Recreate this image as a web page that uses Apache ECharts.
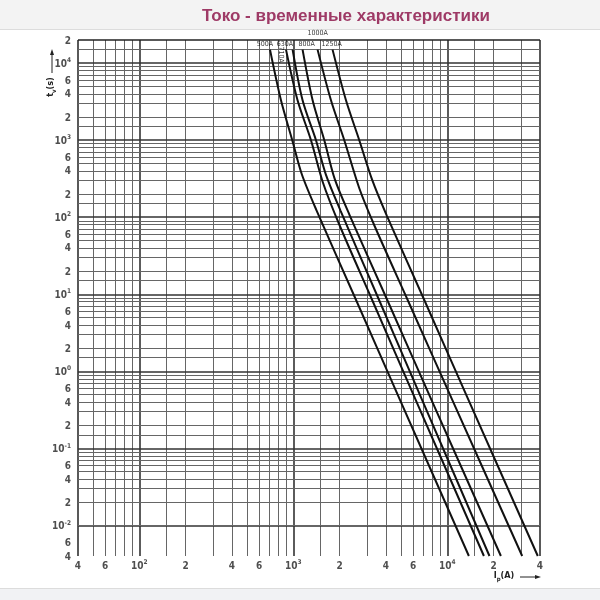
<!DOCTYPE html>
<html><head><meta charset="utf-8">
<script src="https://cdn.jsdelivr.net/npm/echarts@6/dist/echarts.min.js"></script>
<style>html,body{margin:0;padding:0;background:#fff}#c{width:600px;height:600px}</style>
</head><body><div id="c"></div>
<script>
// ---- data ----
const curveNames = ['500A', '630A', '710A', '800A', '1000A', '1250A'];
// times (s) and currents (A)
const time500  = [15000, 3300, 1000, 361, 123, 8.36, 0.42, 0.004];
const current500  = [706, 832, 985, 1136, 1415, 2561, 4945, 13810];
const time630  = [15000, 3300, 1000, 285, 78.7, 8.36, 0.42, 0.004];
const current630  = [897, 1066, 1303, 1555, 1998, 3258, 6254, 17290];
const time710  = [15000, 3300, 1000, 361, 123, 8.36, 0.42, 0.004];
const current710  = [990, 1149, 1404, 1626, 2022, 3613, 6882, 18790];
const time800  = [15000, 3300, 1000, 312, 106, 8.36, 0.42, 0.004];
const current800  = [1149, 1335, 1590, 1860, 2324, 4083, 7918, 22290];
const time1000 = [15000, 3300, 1000, 238, 78.7, 8.36, 0.42, 0.004];
const current1000 = [1438, 1757, 2144, 2683, 3357, 5541, 10810, 30650];
const time1250 = [15000, 3300, 1000, 303, 106, 8.36, 0.42, 0.004];
const current1250 = [1799, 2199, 2683, 3258, 4041, 7102, 13770, 38700];
const curveTimes = [time500, time630, time710, time800, time1000, time1250];
const curveCurrents = [current500, current630, current710, current800, current1000, current1250];

const gridMantissas = [1, 1.5, 2, 3, 4, 5, 6, 7, 8, 9];
const xDecades = [10, 100, 1000, 10000];
const yDecades = [0.001, 0.01, 0.1, 1, 10, 100, 1000, 10000];
const xMin = 40, xMax = 40000, yMin = 0.004, yMax = 20000;

const xTickValues = [40, 60, 100, 200, 400, 600, 1000, 2000, 4000, 6000, 10000, 20000, 40000];
const xTickTexts  = ['4', '6', '10^2', '2', '4', '6', '10^3', '2', '4', '6', '10^4', '2', '4'];
const yTickValues = [20000, 10000, 6000, 4000, 2000, 1000, 600, 400, 200, 100, 60, 40, 20, 10, 6, 4, 2, 1, 0.6, 0.4, 0.2, 0.1, 0.06, 0.04, 0.02, 0.01, 0.006, 0.004];
const yTickTexts  = ['2', '10^4', '6', '4', '2', '10^3', '6', '4', '2', '10^2', '6', '4', '2', '10^1', '6', '4', '2', '10^0', '6', '4', '2', '10^-1', '6', '4', '2', '10^-2', '6', '4'];

const titleText = 'Токо - временные характеристики';

// ---- helpers ----
const FONT = "'Liberation Sans Narrow','DejaVu Sans Condensed','Liberation Sans',sans-serif";
const LFONT = "'DejaVu Sans Condensed','Liberation Sans Narrow',sans-serif";
function gridVals(decades, lo, hi) {
  const out = [];
  decades.forEach(d => gridMantissas.forEach(m => {
    const v = +(m * d).toPrecision(6);
    if (v >= lo - 1e-12 && v <= hi + 1e-12) out.push(v);
  }));
  return out;
}
function isDecade(v) { const l = Math.log10(v); return Math.abs(l - Math.round(l)) < 1e-9; }
function tickRich(t) {
  if (t.indexOf('^') >= 0) { const p = t.split('^'); return '{n|' + p[0] + '}{s|' + p[1] + '}'; }
  return '{n|' + t + '}';
}
const rich = {
  n: { fontSize: 10, fontFamily: FONT, color: '#222', fontWeight: 'bold', lineHeight: 12, verticalAlign: 'bottom' },
  s: { fontSize: 6.5, fontFamily: FONT, color: '#222', fontWeight: 'bold', lineHeight: 12, verticalAlign: 'top' }
};
function lineStyleFor(v, lo, hi) {
  if (v === lo || v === hi) return { color: '#222', width: 1.5, type: 'solid' };
  if (isDecade(v)) return { color: '#333', width: 1.6, type: 'solid' };
  return { color: '#666', width: 1, type: 'solid' };
}

const markData = [];
gridVals(xDecades, xMin, xMax).forEach(v => markData.push({ xAxis: v, lineStyle: lineStyleFor(v, xMin, xMax), label: { show: false } }));
gridVals(yDecades, yMin, yMax).forEach(v => markData.push({ yAxis: v, lineStyle: lineStyleFor(v, yMin, yMax), label: { show: false } }));

const series = [{
  name: 'grid', type: 'line', data: [], silent: true, z: 1,
  markLine: { silent: true, symbol: ['none', 'none'], animation: false, data: markData }
}, {
  name: 'xTicks', type: 'scatter', symbolSize: 0, silent: true, clip: false, z: 3,
  data: xTickValues.map((v, i) => ({ value: [v, yMin], label: { show: true, position: 'bottom', distance: 3, formatter: tickRich(xTickTexts[i]), rich: rich } }))
}, {
  name: 'yTicks', type: 'scatter', symbolSize: 0, silent: true, clip: false, z: 3,
  data: yTickValues.map((v, i) => ({ value: [xMin, v], label: { show: true, position: 'left', distance: 7, formatter: tickRich(yTickTexts[i]), rich: rich } }))
}];
curveNames.forEach((name, k) => {
  series.push({
    name: name, type: 'line', z: 5, smooth: 0.3, symbol: 'none', silent: true,
    lineStyle: { color: '#111', width: 2 },
    data: curveCurrents[k].map((c, j) => [c, curveTimes[k][j]])
  });
});
const labelOffsets = [[-5, -5, 0], [-1, -5, 0], [5, 12, -90], [4, -5, 0], [0, -16, 0], [-1, -5, 0]];
series.push({
  name: 'labels', type: 'scatter', symbolSize: 0, silent: true, clip: false, z: 6,
  data: curveNames.map((name, k) => ({
    value: [curveCurrents[k][0], curveTimes[k][0]],
    label: { show: true, position: 'inside', formatter: name, offset: [labelOffsets[k][0], labelOffsets[k][1]], rotate: labelOffsets[k][2],
      fontFamily: LFONT, fontSize: 7, color: '#000' }
  }))
});

const chart = echarts.init(document.getElementById('c'), null, { renderer: 'canvas', width: 600, height: 600 });
chart.setOption({
  animation: false,
  backgroundColor: '#ffffff',
  title: { text: titleText, left: 197, top: 3,
    textStyle: { color: '#9e3a66', fontSize: 17, fontWeight: 'bold', fontFamily: "'Liberation Sans',Arial,sans-serif" } },
  grid: { left: 78, right: 60, top: 40, bottom: 44, show: false },
  xAxis: { type: 'log', logBase: 10, min: xMin, max: xMax, axisLine: { show: false }, axisTick: { show: false }, axisLabel: { show: false }, splitLine: { show: false } },
  yAxis: { type: 'log', logBase: 10, min: yMin, max: yMax, axisLine: { show: false }, axisTick: { show: false }, axisLabel: { show: false }, splitLine: { show: false } },
  graphic: [
    { type: 'rect', z: -10, shape: { x: 0, y: 0, width: 600, height: 29 }, style: { fill: '#f3f3f3' } },
    { type: 'line', z: -9, shape: { x1: 0, y1: 29.5, x2: 600, y2: 29.5 }, style: { stroke: '#dcdcdc', lineWidth: 1 } },
    { type: 'rect', z: -10, shape: { x: 0, y: 588, width: 600, height: 12 }, style: { fill: '#f1f2f4' } },
    { type: 'line', z: -9, shape: { x1: 0, y1: 588.5, x2: 600, y2: 588.5 }, style: { stroke: '#dcdcdc', lineWidth: 1 } },
    // y axis name + arrow
    { type: 'line', shape: { x1: 52, y1: 73, x2: 52, y2: 52 }, style: { stroke: '#222', lineWidth: 1 } },
    { type: 'polygon', shape: { points: [[52, 49], [50, 55], [54, 55]] }, style: { fill: '#222' } },
    { type: 'text', x: 52, y: 87, rotation: Math.PI / 2,
      style: { text: '{a|t}{b|v}{a|(s)}', align: 'center', verticalAlign: 'middle',
        rich: { a: { fontSize: 9, fontFamily: FONT, fill: '#222', fontWeight: 'bold', lineHeight: 11, verticalAlign: 'top' },
                b: { fontSize: 6, fontFamily: FONT, fill: '#222', fontWeight: 'bold', lineHeight: 11, verticalAlign: 'bottom' } } } },
    // x axis name + arrow
    { type: 'text', x: 504, y: 577,
      style: { text: '{a|I}{b|p}{a|(A)}', align: 'center', verticalAlign: 'middle',
        rich: { a: { fontSize: 9, fontFamily: FONT, fill: '#222', fontWeight: 'bold', lineHeight: 11, verticalAlign: 'top' },
                b: { fontSize: 6, fontFamily: FONT, fill: '#222', fontWeight: 'bold', lineHeight: 11, verticalAlign: 'bottom' } } } },
    { type: 'line', shape: { x1: 520, y1: 577, x2: 537, y2: 577 }, style: { stroke: '#222', lineWidth: 1 } },
    { type: 'polygon', shape: { points: [[541, 577], [535, 575], [535, 579]] }, style: { fill: '#222' } }
  ],
  series: series
});
</script>
</body></html>
